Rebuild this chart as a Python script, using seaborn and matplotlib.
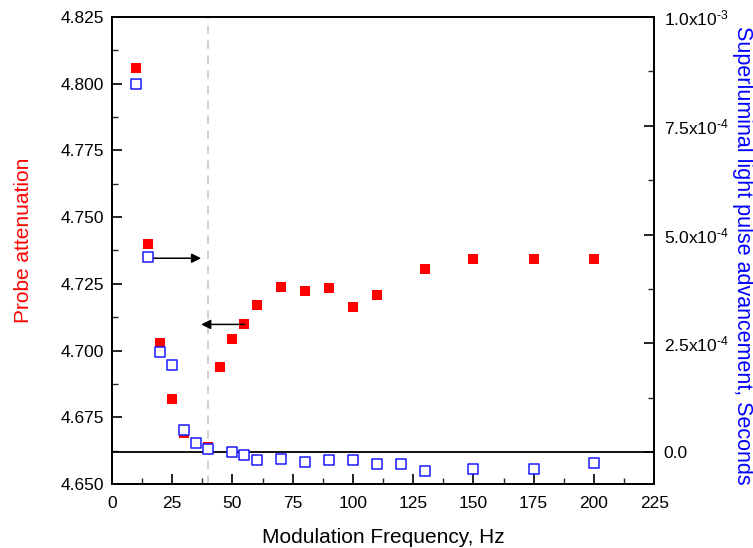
import numpy as np
import pandas as pd
import seaborn as sns
import matplotlib.pyplot as plt
from matplotlib.ticker import MultipleLocator, FixedLocator

# %% data

# probe attenuation (left axis, filled red squares)
lst_freq_att = [10, 15, 20, 25, 30, 40, 45, 50, 55, 60, 70, 80, 90, 100,
                110, 130, 150, 175, 200]
lst_att = [4.806, 4.740, 4.703, 4.682, 4.669, 4.664, 4.694, 4.7045, 4.710,
           4.717, 4.7237, 4.7223, 4.7235, 4.7162, 4.721, 4.7304, 4.7344,
           4.7344, 4.7344]

# pulse advancement (right axis, open blue squares), seconds
lst_freq_adv = [10, 15, 20, 25, 30, 35, 40, 50, 55, 60, 70, 80, 90, 100,
                110, 120, 130, 150, 175, 200]
lst_adv = [8.47e-4, 4.49e-4, 2.30e-4, 2.01e-4, 0.50e-4, 0.20e-4, 0.06e-4,
           -0.01e-4, -0.07e-4, -0.19e-4, -0.17e-4, -0.23e-4, -0.19e-4,
           -0.19e-4, -0.28e-4, -0.28e-4, -0.44e-4, -0.40e-4, -0.40e-4,
           -0.26e-4]

lst_right_ticks = [0.0, 2.5e-4, 5.0e-4, 7.5e-4, 1.0e-3]
lst_right_labels = ['0.0', '2.5x10$^{\u2010 4}$', '5.0x10$^{\u2010 4}$',
                    '7.5x10$^{\u2010 4}$', '1.0x10$^{\u2010 3}$']

# %% plot

sns.set_theme(style='ticks')
plt.rcParams['font.family'] = ['Liberation Sans', 'DejaVu Sans']
plt.rcParams['mathtext.default'] = 'regular'

df_att = pd.DataFrame({'freq': lst_freq_att, 'att': lst_att})
df_adv = pd.DataFrame({'freq': lst_freq_adv, 'adv': lst_adv})

fig = plt.figure(figsize=(7.53, 5.48), dpi=100)
ax = fig.add_axes([0.1487, 0.1168, 0.72, 0.8522])
ax2 = ax.twinx()

sns.scatterplot(data=df_att, x='freq', y='att', ax=ax, marker='s', s=42,
                color='#ff0000', edgecolor='#ff0000', linewidth=0, zorder=3)
sns.scatterplot(data=df_adv, x='freq', y='adv', ax=ax2, marker='s', s=42,
                facecolor='white', edgecolor='#1a1aff', linewidth=1.1,
                zorder=4)

ax.set_xlim(0, 225)
ax.set_ylim(4.650, 4.825)
ax2.set_ylim(-0.735e-4, 1.0e-3)

# dashed guide line and zero line
ax.axvline(40, color='#c8c8c8', linestyle=(0, (5, 4)), linewidth=1.2,
           zorder=1)
ax2.axhline(0, color='black', linewidth=1.3, zorder=2)

# arrows pointing to their axes
ax.annotate('', xy=(37, 4.7346), xytext=(15, 4.7346),
            arrowprops=dict(arrowstyle='-|>', color='black', lw=1.1,
                            mutation_scale=14, shrinkA=0, shrinkB=0))
ax.annotate('', xy=(37, 4.7098), xytext=(55, 4.7098),
            arrowprops=dict(arrowstyle='-|>', color='black', lw=1.1,
                            mutation_scale=14, shrinkA=0, shrinkB=0))

# ticks
ax.xaxis.set_major_locator(MultipleLocator(25))
ax.xaxis.set_minor_locator(MultipleLocator(12.5))
ax.yaxis.set_major_locator(MultipleLocator(0.025))
ax.yaxis.set_minor_locator(MultipleLocator(0.0125))
ax.yaxis.set_major_formatter(plt.FormatStrFormatter('%.3f'))
ax2.yaxis.set_major_locator(FixedLocator(lst_right_ticks))
ax2.set_yticklabels(lst_right_labels)
ax2.yaxis.set_minor_locator(MultipleLocator(1.25e-4))

for a in (ax, ax2):
    a.tick_params(which='major', direction='in', length=7, width=1.2,
                  labelsize=12.5, colors='black', labelcolor='black')
    a.tick_params(which='minor', direction='in', length=4, width=1.0)
    for sp in a.spines.values():
        sp.set_visible(True)
        sp.set_linewidth(1.3)
        sp.set_color('black')
ax.tick_params(axis='x', pad=9)
ax.tick_params(axis='y', pad=6)
ax2.tick_params(axis='y', pad=7)

ax.set_xlabel('Modulation Frequency, Hz', fontsize=15, labelpad=12,
              color='black')
ax.set_ylabel('Probe attenuation', fontsize=15, color='#ff0000')
ax.yaxis.set_label_coords(-0.146, 0.522)
ax2.set_ylabel('Superluminal light pulse advancement, Seconds',
               fontsize=15.5, color='#0000ff', rotation=270)
ax2.yaxis.set_label_coords(1.183, 0.49)

fig.savefig('out.png', dpi=100)
